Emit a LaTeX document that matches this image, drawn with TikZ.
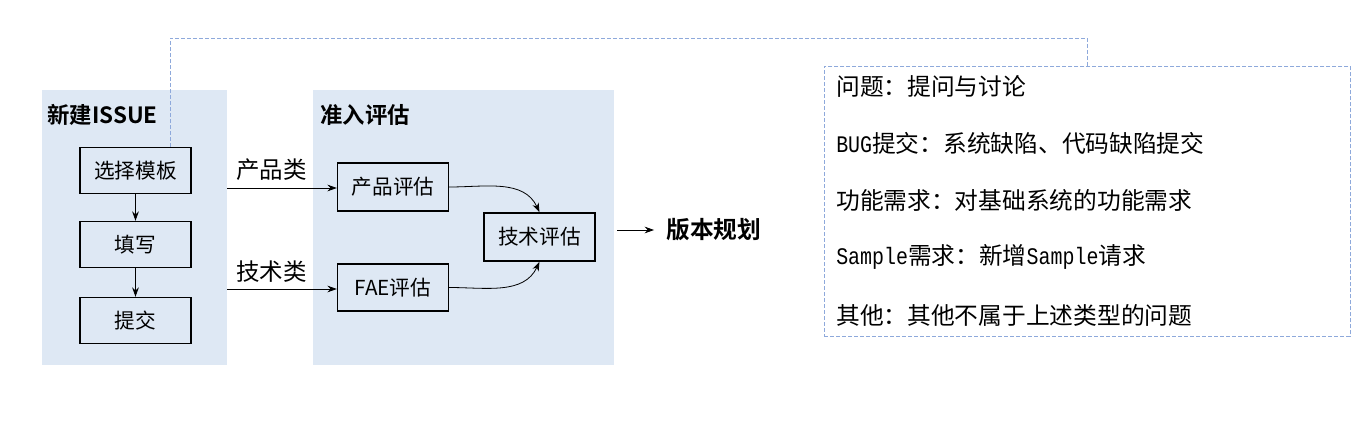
\documentclass[tikz,border=0pt]{standalone}
\usepackage{fontspec}
\setmainfont{Noto Sans CJK SC}[BoldFont={Noto Sans CJK SC Bold}]
\newfontfamily\lmono{Liberation Mono}[FakeStretch=0.84]
\usetikzlibrary{arrows.meta,positioning}
\definecolor{panelfill}{HTML}{DEE8F4}
\definecolor{dashblue}{HTML}{8EA9DB}
\tikzset{
  panel/.style={fill=panelfill, draw=none, anchor=north west, inner sep=0pt},
  boxnode/.style={draw=black, line width=1.1pt, fill=panelfill, minimum width=83.25pt, minimum height=34.5pt, inner sep=0pt, font=\fontsize{15.5}{17}\selectfont},
  ptitle/.style={anchor=west, font=\bfseries\fontsize{16.8}{19}\selectfont, inner sep=0pt},
  lbl/.style={anchor=west, font=\fontsize{17.6}{19}\selectfont, inner sep=0pt},
  arr/.style={-{Stealth[length=7pt,width=5pt]}, line width=0.6pt},
  dashln/.style={draw=dashblue, line width=0.7pt, dash pattern=on 3pt off 1.5pt},
  legtxt/.style={anchor=west, font=\fontsize{17.8}{19}\selectfont, inner sep=0pt},
}
\begin{document}
\begin{tikzpicture}[x=0.75pt,y=-0.75pt]
\useasboundingbox (0,0) rectangle (1371,431);
% panels
\node[panel, minimum width=138.75pt, minimum height=206.25pt] (p1) at (42,90) {};
\node[panel, minimum width=225.75pt, minimum height=206.25pt] (p2) at (313,90) {};
\node[ptitle] (t1) at (47,115) {新建ISSUE};
\node[ptitle] (t2) at (320,115) {准入评估};
% left boxes
\node[boxnode] (sel) at (135.5,170.5) {选择模板};
\node[boxnode] (fil) at (135.5,244.5) {填写};
\node[boxnode] (sub) at (135.5,320.5) {提交};
\draw[arr] (sel) -- (fil);
\draw[arr] (fil) -- (sub);
% middle boxes
\node[boxnode, minimum height=36pt] (prod) at (393,187) {产品评估};
\node[boxnode, minimum height=35.25pt] (fae) at (393,287.5) {FAE评估};
\node[boxnode, minimum height=36pt] (tech) at (539.5,237) {技术评估};
\coordinate (a1) at (227,188);
\coordinate (a2) at (227,289);
\draw[arr] (a1) -- (a1 -| prod.west);
\draw[arr] (a2) -- (a2 -| fae.west);
\node[lbl] (l1) at (236,170) {产品类};
\node[lbl] (l2) at (236,272) {技术类};
\draw[arr] (prod.east) to[out=0,in=115] (tech.north);
\draw[arr] (fae.east) to[out=0,in=-115] (tech.south);
% output
\coordinate (o1) at (617,230);
\node[ptitle, font=\bfseries\fontsize{17.8}{19}\selectfont] (plan) at (666,230) {版本规划};
\draw[arr] (o1) -- ([xshift=-9pt]plan.west);
% legend
\node[dashln, draw, anchor=north west, minimum width=394.5pt, minimum height=202.5pt, inner sep=0pt] (leg) at (824,66) {};
\coordinate (c1) at (170,38);
\draw[dashln] (sel.north -| c1) -- (c1) -| (leg.north);
\node[legtxt] (g1) at (836,86) {问题：提问与讨论};
\node[legtxt] (g2) at (836,143) {{\lmono BUG}提交：系统缺陷、代码缺陷提交};
\node[legtxt] (g3) at (836,200) {功能需求：对基础系统的功能需求};
\node[legtxt] (g4) at (836,257) {{\lmono Sample}需求：新增{\lmono Sample}请求};
\node[legtxt] (g5) at (836,315) {其他：其他不属于上述类型的问题};
\end{tikzpicture}
\end{document}
